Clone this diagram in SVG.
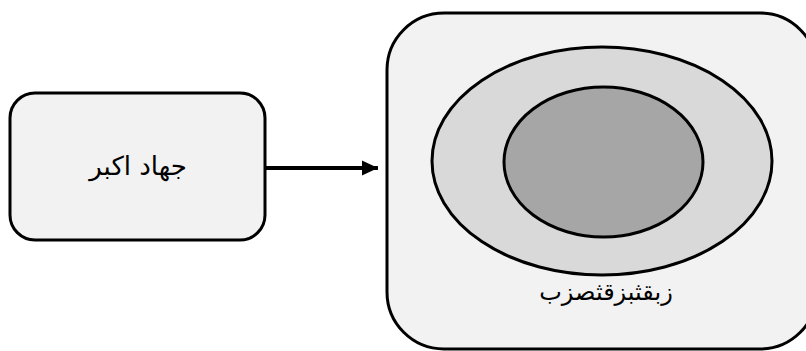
<svg xmlns="http://www.w3.org/2000/svg" width="806" height="351" viewBox="0 0 806 351">
<defs>
<style>
.box{fill:#f2f2f2;stroke:#000;stroke-width:3}
.lbl{font-family:"DejaVu Sans","Noto Sans",sans-serif;fill:#000;text-anchor:middle}
.conn{stroke:#000;stroke-width:4;fill:none}
</style>
<marker id="ah" markerWidth="16" markerHeight="16" refX="16" refY="8" orient="auto" markerUnits="userSpaceOnUse">
<path d="M0,0.5 L16,8 L0,15.5 z" fill="#000"/>
</marker>
</defs>
<rect width="806" height="351" fill="#fff"/>
<g id="node-jihad">
<rect class="box" x="10" y="93" width="255" height="147" rx="25" ry="25"/>
<text class="lbl" x="138" y="175" font-size="26" direction="rtl">جهاد اکبر</text>
</g>
<g id="node-container">
<rect class="box" x="387" y="13" width="430" height="336" rx="57" ry="57"/>
<ellipse cx="602" cy="161" rx="170" ry="114" fill="#d9d9d9" stroke="#000" stroke-width="3"/>
<ellipse cx="603.5" cy="162" rx="99.5" ry="75" fill="#a6a6a6" stroke="#000" stroke-width="3"/>
<text class="lbl" x="606" y="300" font-size="24" direction="rtl">زبقثبزقثصزب</text>
</g>
<g id="connectors">
<line class="conn" x1="265" y1="168" x2="378" y2="168" marker-end="url(#ah)"/>
</g>
</svg>
